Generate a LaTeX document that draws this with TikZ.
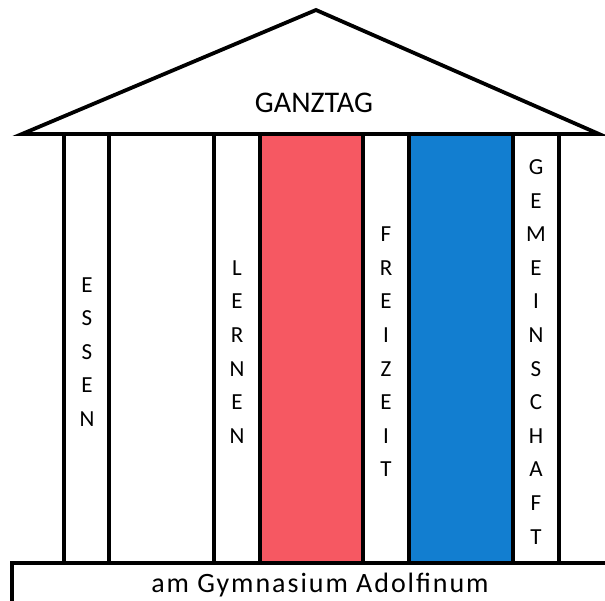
\documentclass[tikz,border=0pt]{standalone}
\usepackage{fontspec}
\setmainfont{Carlito}
\newfontfamily\sockelfont[LetterSpace=7]{Carlito}
\definecolor{lernrot}{RGB}{246,88,98}
\definecolor{freiblau}{RGB}{18,126,208}

\begin{document}
\begin{tikzpicture}[x=1pt,y=-1pt,line width=3.8pt,
    saeule/.style={font=\fontsize{23}{23}\selectfont,inner sep=0pt}]
  \clip (0,0) rectangle (605,600);
  \fill[white] (0,0) rectangle (605,600);
  \fill[lernrot] (260,135) rectangle (363,563);
  \fill[freiblau] (409,135) rectangle (513,563);
  \foreach \x in {64,109,214,260,363,409,513,559}
    \draw (\x,135) -- (\x,563);
  \draw[line join=miter] (22,134) -- (316,10) -- (599,134) -- cycle;
  \draw (12,605) -- (12,563) -- (610,563);
  \node[font=\fontsize{30}{30}\selectfont,anchor=base] (ganztag) at (314,112.5) {GANZTAG};
  \node[font=\sockelfont\fontsize{28}{28}\selectfont,anchor=base] (schule) at (320,592) {am Gymnasium Adolfinum};
  \foreach \ch [count=\i] in {E,S,S,E,N}
    \node[saeule] (essen-\i) at (87,{352+(\i-3)*33.6}) {\ch};
  \foreach \ch [count=\i] in {L,E,R,N,E,N}
    \node[saeule] (lernen-\i) at (237,{352+(\i-3.5)*33.6}) {\ch};
  \foreach \ch [count=\i] in {F,R,E,I,Z,E,I,T}
    \node[saeule] (freizeit-\i) at (386,{352+(\i-4.5)*33.6}) {\ch};
  \foreach \ch [count=\i] in {G,E,M,E,I,N,S,C,H,A,F,T}
    \node[saeule] (gemeinschaft-\i) at (536,{352+(\i-6.5)*33.6}) {\ch};
\end{tikzpicture}
\end{document}
